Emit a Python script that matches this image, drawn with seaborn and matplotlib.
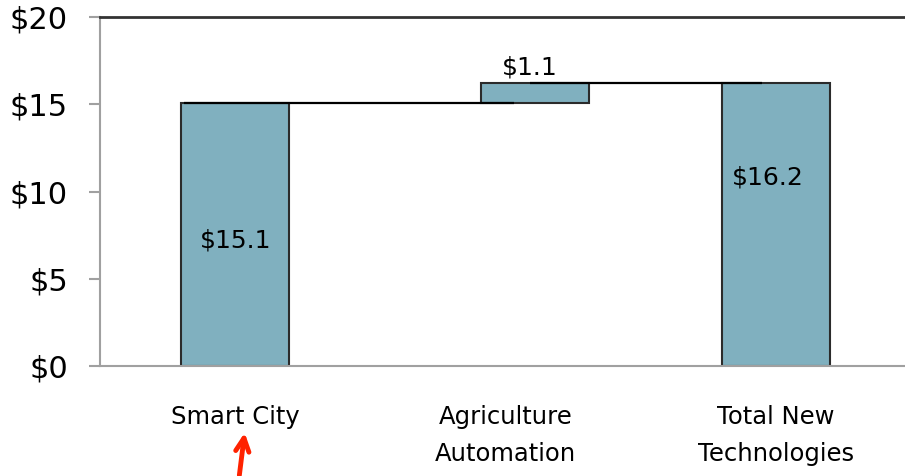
import seaborn as sns
import matplotlib.pyplot as plt

categories = ['Smart City', 'Agriculture\nAutomation', 'Total New\nTechnologies']
values = [15.1, 1.1, 16.2]
bases = [0, 15.1, 0]
labels = ['$15.1', '$1.1', '$16.2']

sns.set_style('white')
plt.rcParams['font.family'] = ['DejaVu Sans']
plt.rcParams['text.color'] = 'black'
plt.rcParams['xtick.labelcolor'] = 'black'
plt.rcParams['ytick.labelcolor'] = 'black'

fig = plt.figure(figsize=(9.05, 4.76), dpi=100)
ax = fig.add_axes([0.1105, 0.231, 0.896, 0.733])

sns.barplot(x=categories, y=values, bottom=bases, color='#80b0bf', saturation=1,
            width=0.4, edgecolor='#2b2b2b', linewidth=1.5, errorbar=None, ax=ax)
# the floating bar sits a little right of its slot
ax.patches[1].set_x(ax.patches[1].get_x() + 0.11)

# connectors
ax.hlines(values[0], -0.19, 1.03, color='black', lw=1.6, zorder=3)
ax.hlines(bases[1] + values[1], 1.09, 1.95, color='black', lw=1.6, zorder=3)

ax.text(0, 7.2, labels[0], ha='center', va='center', fontsize=18)
ax.text(1.09, 17.1, labels[1], ha='center', va='center', fontsize=18)
ax.text(1.97, 10.8, labels[2], ha='center', va='center', fontsize=18)

ax.set_ylim(0, 20)
ax.set_xlim(-0.5, 2.5)
ax.set_yticks([0, 5, 10, 15, 20])
ax.set_yticklabels(['$0', '$5', '$10', '$15', '$20'], fontsize=22)
ax.set_xticks([0, 1, 2])
ax.set_xticklabels(categories, fontsize=17.5, linespacing=1.7)
ax.set_xticks([-0.5, 0.5, 1.5, 2.5], minor=True)
ax.tick_params(axis='x', which='major', length=0, pad=28)
ax.tick_params(axis='x', which='minor', length=8, width=1.5, color='#a0a0a0', direction='out')
ax.tick_params(axis='y', length=8, width=1.5, color='#a0a0a0', direction='out', left=True, pad=15)
ax.set_xlabel('')
ax.set_ylabel('')

for s in ['left', 'bottom']:
    ax.spines[s].set_color('#a0a0a0')
    ax.spines[s].set_linewidth(1.5)
ax.spines['top'].set_color('#333333')
ax.spines['top'].set_linewidth(2)
ax.spines['right'].set_visible(False)

# red pointer under the first label
ax.annotate('', xy=(245, 46), xytext=(239, -2), xycoords='figure pixels',
            textcoords='figure pixels',
            arrowprops=dict(arrowstyle='->', color='#ff2200', lw=3.5, mutation_scale=24))

fig.savefig('out.png', dpi=100)
